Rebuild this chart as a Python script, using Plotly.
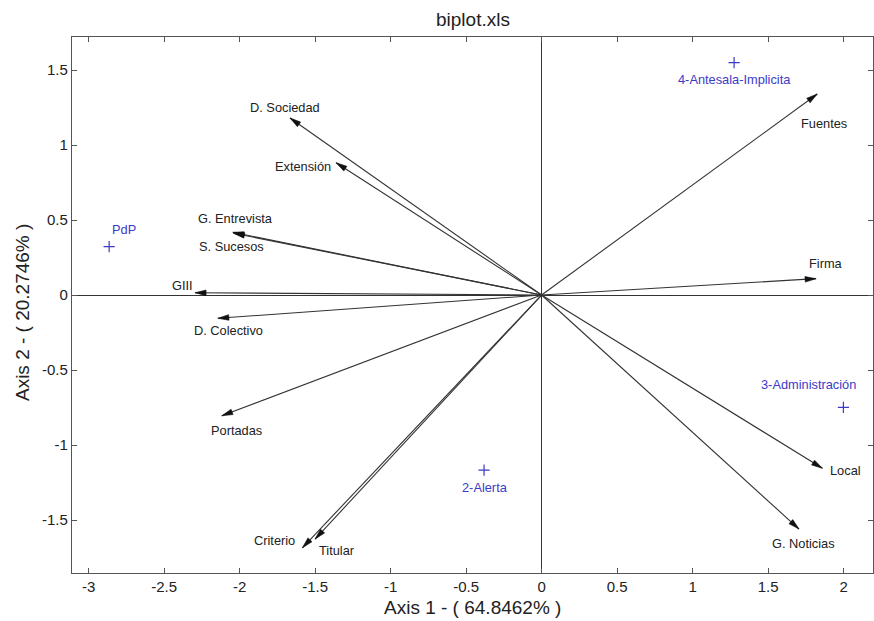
import math
import plotly.graph_objects as go

# ---------------- data ----------------
var_names = ["D. Sociedad", "Extensión", "G. Entrevista", "S. Sucesos", "GIII",
             "D. Colectivo", "Portadas", "Criterio", "Titular",
             "Fuentes", "Firma", "Local", "G. Noticias"]
var_x = [-1.666, -1.361, -2.045, -2.040, -2.295, -2.144, -2.118, -1.584, -1.500,
         1.826, 1.818, 1.860, 1.705]
var_y = [1.180, 0.882, 0.418, 0.412, 0.015, -0.155, -0.805, -1.685, -1.627,
         1.340, 0.109, -1.155, -1.560]

obs_names = ["PdP", "4-Antesala-Implicita", "3-Administración", "2-Alerta"]
obs_x = [-2.864, 1.275, 1.999, -0.381]
obs_y = [0.322, 1.549, -0.749, -1.167]

x_ticks = [-3, -2.5, -2, -1.5, -1, -0.5, 0, 0.5, 1, 1.5, 2]
x_ticklabels = ["-3", "-2.5", "-2", "-1.5", "-1", "-0.5", "0", "0.5", "1", "1.5", "2"]
y_ticks = [-1.5, -1, -0.5, 0, 0.5, 1, 1.5]
y_ticklabels = ["-1.5", "-1", "-0.5", "0", "0.5", "1", "1.5"]

title_text = "biplot.xls"
x_title = "Axis 1 - ( 64.8462% )"
y_title = "Axis 2 - ( 20.2746% )"

# ---------------- layout / style ----------------
W, H = 874, 621
M_L, M_R, M_T, M_B = 72, 1, 37, 48
X_RANGE = [-3.11, 2.195]
Y_RANGE = [-1.853, 1.72]
FONT = "Liberation Sans, Arial, sans-serif"
DARK = "#222222"
BLUE = "#3b3bc8"

# label offsets in pixels (dx right, dy up) relative to arrow tips / points
var_label_off = [(-5, 11), (-33, -4), (3, 14), (-2, -13), (-13, 7), (11, -12),
                 (15, -15), (-28, 7), (22, -11), (7, -29), (10, 15), (23, -2), (4, -14)]
obs_label_off = [(15, 17), (0, -17), (-35, 23), (1, -17)]

# pixel scale of the axes
sx = (W - M_L - M_R) / (X_RANGE[1] - X_RANGE[0])
sy = (H - M_T - M_B) / (Y_RANGE[1] - Y_RANGE[0])

fig = go.Figure()

shaft_x, shaft_y = [], []
head_x, head_y = [], []
HEAD_L, HEAD_W = 11.0, 2.8
for x, y in zip(var_x, var_y):
    shaft_x += [0, x, None]
    shaft_y += [0, y, None]
    px, py = x * sx, y * sy
    n = math.hypot(px, py)
    ux, uy = px / n, py / n
    bx, by = px - HEAD_L * ux, py - HEAD_L * uy
    nx, ny = -uy, ux
    c1 = ((bx + HEAD_W * nx) / sx, (by + HEAD_W * ny) / sy)
    c2 = ((bx - HEAD_W * nx) / sx, (by - HEAD_W * ny) / sy)
    head_x += [x, c1[0], c2[0], x, None]
    head_y += [y, c1[1], c2[1], y, None]

fig.add_trace(go.Scatter(x=shaft_x, y=shaft_y, mode="lines",
                         line=dict(color="#333333", width=1.1),
                         hoverinfo="skip", showlegend=False))
fig.add_trace(go.Scatter(x=head_x, y=head_y, mode="lines", fill="toself",
                         fillcolor="#111111", line=dict(color="#111111", width=0.6),
                         hoverinfo="skip", showlegend=False))

fig.add_trace(go.Scatter(x=obs_x, y=obs_y, mode="markers",
                         marker=dict(symbol="cross-thin", size=8,
                                     line=dict(color=BLUE, width=1.2)),
                         text=obs_names, showlegend=False))

annotations = []
for name, x, y, (dx, dy) in zip(var_names, var_x, var_y, var_label_off):
    annotations.append(dict(x=x, y=y, xref="x", yref="y", text=name, showarrow=False,
                            xshift=dx, yshift=dy, xanchor="center", yanchor="middle",
                            font=dict(family=FONT, size=12.8, color=DARK)))
for name, x, y, (dx, dy) in zip(obs_names, obs_x, obs_y, obs_label_off):
    annotations.append(dict(x=x, y=y, xref="x", yref="y", text=name, showarrow=False,
                            xshift=dx, yshift=dy, xanchor="center", yanchor="middle",
                            font=dict(family=FONT, size=12.8, color=BLUE)))

annotations.append(dict(x=0.5, y=0, xref="paper", yref="paper", text=x_title,
                        showarrow=False, yshift=-34, xanchor="center", yanchor="middle",
                        font=dict(family=FONT, size=19, color=DARK)))
annotations.append(dict(x=0, y=0.485, xref="paper", yref="paper", text=y_title,
                        showarrow=False, xshift=-50, textangle=-90,
                        xanchor="center", yanchor="middle",
                        font=dict(family=FONT, size=19, color=DARK)))
annotations.append(dict(x=0.5, y=1, xref="paper", yref="paper", text=title_text,
                        showarrow=False, yshift=18, xanchor="center", yanchor="middle",
                        font=dict(family=FONT, size=19, color=DARK)))

axis_common = dict(showgrid=False, ticks="inside", ticklen=5, tickwidth=1,
                   tickcolor="#555555", showline=True, linecolor="#555555",
                   linewidth=1.2, mirror="ticks", zeroline=True,
                   zerolinecolor="#333333", zerolinewidth=1.2,
                   tickfont=dict(family=FONT, size=15, color=DARK))

fig.update_layout(
    width=W, height=H,
    margin=dict(l=M_L, r=M_R, t=M_T, b=M_B, autoexpand=False),
    paper_bgcolor="white", plot_bgcolor="white",
    annotations=annotations,
    xaxis=dict(range=X_RANGE, tickmode="array", tickvals=x_ticks,
               ticktext=x_ticklabels, automargin=False, **axis_common),
    yaxis=dict(range=Y_RANGE, tickmode="array", tickvals=y_ticks,
               ticktext=y_ticklabels, automargin=False, **axis_common),
    showlegend=False,
)

fig.write_html("out.html",
               config={"displayModeBar": False},
               post_script="document.body.style.margin='0px';"
                           "document.body.style.overflow='hidden';")
